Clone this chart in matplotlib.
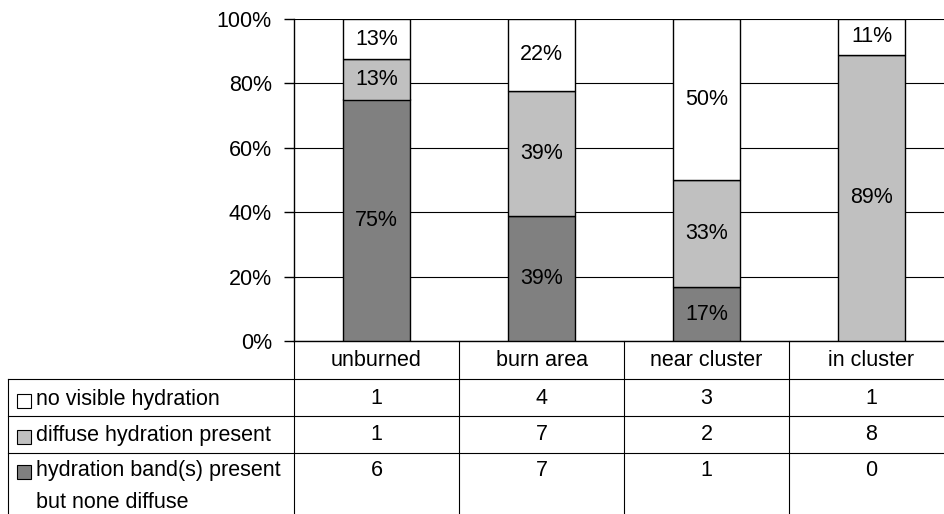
import matplotlib.pyplot as plt
import numpy as np

plt.rcParams["font.family"] = ["Liberation Sans", "DejaVu Sans"]
plt.rcParams["font.size"] = 15.5

# sample counts per site
sites = ["unburned", "burn area", "near cluster", "in cluster"]
no_visible = [1, 4, 3, 1]
diffuse = [1, 7, 2, 8]
band_only = [6, 7, 1, 0]

row_labels = ["no visible hydration", "diffuse hydration present",
              "hydration band(s) present\nbut none diffuse"]
row_colors = ["#FFFFFF", "#C0C0C0", "#808080"]

W, H = 944, 514
fig = plt.figure(figsize=(W / 100, H / 100), dpi=100)

# plot area in pixels: left 294, right 954 (runs past the edge), top 19, bottom 341
ax = fig.add_axes([294 / W, (H - 341) / H, 660 / W, 322 / H])


def ypx(py):
    # pixel row (from top) -> axes fraction
    return (341 - py) / 322


def xpx(px):
    return (px - 294) / 660


counts = np.array([no_visible, diffuse, band_only], dtype=float)
pct = counts / counts.sum(axis=0) * 100
x = np.arange(len(sites))

# stack from the bottom: band only, diffuse, no visible
bottom = np.zeros(len(sites))
for i in [2, 1, 0]:
    ax.bar(x, pct[i], width=0.41, bottom=bottom, color=row_colors[i],
           edgecolor="black", linewidth=1, zorder=3)
    for xi, b, v in zip(x, bottom, pct[i]):
        if v > 0:
            ax.text(xi, b + v / 2, f"{int(v + 0.5)}%", ha="center", va="center",
                    zorder=4)
    bottom += pct[i]

ax.set_xlim(-0.5, len(sites) - 0.5)
ax.set_ylim(0, 100)
ax.set_yticks(np.arange(0, 101, 20))
ax.set_yticklabels([f"{t}%" for t in range(0, 101, 20)])
ax.tick_params(axis="y", length=7, width=1, pad=9, color="black")
ax.set_xticks([])
ax.yaxis.grid(True, color="black", linewidth=0.8)
ax.set_axisbelow(True)
for s in ["top", "right"]:
    ax.spines[s].set_visible(False)
for s in ["left", "bottom"]:
    ax.spines[s].set_linewidth(1)
    ax.spines[s].set_color("black")

# data table under the chart
tr = ax.transAxes
line_kw = dict(color="black", linewidth=0.8, transform=tr, clip_on=False)
col_edges = np.arange(len(sites) + 1) / len(sites)
for ce in col_edges:
    ax.plot([ce, ce], [0, ypx(H + 5)], **line_kw)
ax.plot([xpx(8), xpx(8)], [ypx(379), ypx(H + 5)], **line_kw)
for py in [379, 416, 453]:
    ax.plot([xpx(8), 1.05], [ypx(py), ypx(py)], **line_kw)

centers = (col_edges[:-1] + col_edges[1:]) / 2
for cx, name in zip(centers, sites):
    ax.text(cx, ypx(360), name, ha="center", va="center", transform=tr)

row_y = [399, 435, 470]
for i, (label, ry) in enumerate(zip(row_labels, row_y)):
    ax.add_patch(plt.Rectangle((xpx(17), ypx(ry + 9)), 14 / 660, 14 / 322,
                               facecolor=row_colors[i], edgecolor="black",
                               linewidth=0.8, transform=tr, clip_on=False))
    ax.text(xpx(36), ypx(ry - 10), label, ha="left", va="top", transform=tr,
            linespacing=1.7)
    for cx, c in zip(centers, counts[i]):
        ax.text(cx, ypx(ry), f"{int(c)}", ha="center", va="center", transform=tr)

fig.savefig("out.png", dpi=100)
